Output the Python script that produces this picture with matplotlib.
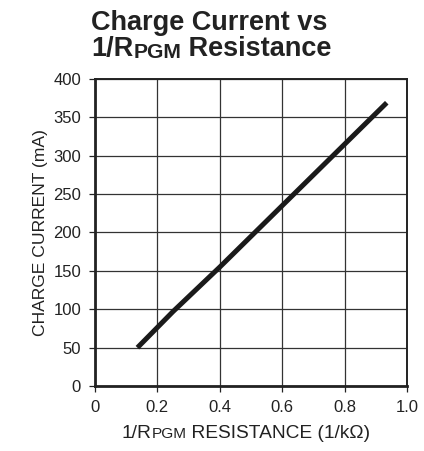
import matplotlib
matplotlib.use("Agg")
import matplotlib.pyplot as plt
from matplotlib.offsetbox import TextArea, HPacker, VPacker, AnnotationBbox

plt.rcParams['font.family'] = ['Liberation Sans', 'DejaVu Sans']

# values
inv_r = [0.136, 0.25, 0.40, 0.60, 0.80, 0.935]
current_ma = [50, 97, 155, 235, 315, 369]

x_ticks = [0, 0.2, 0.4, 0.6, 0.8, 1.0]
x_tick_labels = ['0', '0.2', '0.4', '0.6', '0.8', '1.0']
y_ticks = [0, 50, 100, 150, 200, 250, 300, 350, 400]

TXT = '#222222'


def sub_line(parts, size, weight='normal', ratio=0.78):
    # parts: list of (text, is_subscript); subscript drawn smaller, bottom-aligned
    boxes = []
    for s, small in parts:
        fs = size * ratio if small else size
        boxes.append(TextArea(s, textprops=dict(fontsize=fs, fontweight=weight, color=TXT)))
    return HPacker(children=boxes, align='bottom', pad=0, sep=0)


fig = plt.figure(figsize=(4.24, 4.51), dpi=100)
ax = fig.add_axes([0.224, 0.144, 0.736, 0.681])

ax.plot(inv_r, current_ma, color='#1a1a1a', linewidth=3.6, solid_capstyle='butt')

ax.set_xlim(0, 1.0)
ax.set_ylim(0, 400)
ax.set_xticks(x_ticks)
ax.set_xticklabels(x_tick_labels)
ax.set_yticks(y_ticks)
ax.grid(True, color='#333333', linewidth=0.9)
ax.set_axisbelow(True)
ax.tick_params(direction='out', length=4, width=0.9, labelsize=12, colors=TXT, pad=6)

for side in ['top', 'right']:
    ax.spines[side].set_linewidth(1.4)
for side in ['left', 'bottom']:
    ax.spines[side].set_linewidth(2.0)
for s in ax.spines.values():
    s.set_color(TXT)

ax.set_ylabel('CHARGE CURRENT (mA)', fontsize=12.6, color=TXT, labelpad=4)

# x label with small-cap style subscript
xlab = sub_line([('1/R', False), ('PGM', True), (' RESISTANCE (1/k\u03a9)', False)], 13.8, ratio=0.8)
fig.add_artist(AnnotationBbox(xlab, (246, 451 - 433), xycoords='figure pixels',
                              box_alignment=(0.5, 0.5), frameon=False, pad=0))

# two-line bold title
title = VPacker(children=[
    sub_line([('Charge Current vs', False)], 19.5, 'bold'),
    sub_line([('1/R', False), ('PGM', True), (' Resistance', False)], 19.5, 'bold'),
], align='left', pad=0, sep=0)
fig.add_artist(AnnotationBbox(title, (91, 451 - 10), xycoords='figure pixels',
                              box_alignment=(0, 1), frameon=False, pad=0))

fig.savefig('out.png', dpi=100)
